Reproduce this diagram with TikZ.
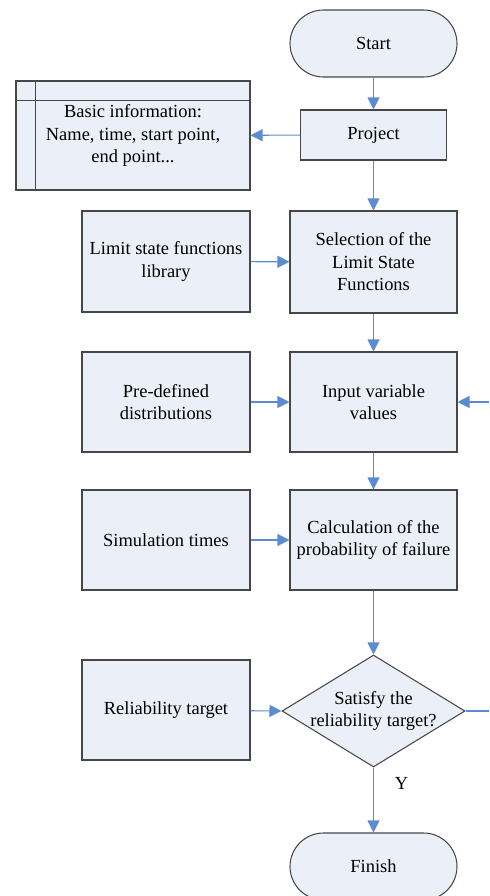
\documentclass[tikz,border=0pt]{standalone}
\usepackage{fontspec}
\setmainfont{Liberation Serif}
\usetikzlibrary{shapes.geometric,arrows.meta}
\definecolor{boxfill}{HTML}{EBEFF7}
\definecolor{boxedge}{HTML}{474747}
\definecolor{flowblue}{HTML}{5B8BD0}

\begin{document}
\begin{tikzpicture}[
              font=\fontsize{10.5}{12.8}\selectfont,
              process/.style={draw=boxedge,fill=boxfill,line width=0.6pt,align=center,inner sep=0pt,minimum width=3.36cm,minimum height=2.02cm},
              terminal/.style={draw=boxedge,fill=boxfill,line width=0.6pt,rounded corners=0.67cm,minimum width=3.34cm,minimum height=1.34cm},
              decision/.style={diamond,draw=boxedge,fill=boxfill,line width=0.6pt,inner sep=0pt,minimum width=3.66cm,minimum height=2.24cm},
              flow/.style={draw=flowblue,line width=0.6pt,-{Triangle[length=0.24cm,width=0.24cm]}},
              plainflow/.style={draw=flowblue,line width=0.6pt}
            ]
            \useasboundingbox (0cm,0cm) rectangle (9.78cm,-17.92cm);

            % Main column
            \node[terminal] (start) at (7.47cm,-0.87cm) {Start};
            \node[process,minimum width=2.92cm,minimum height=1.0cm] (project) at (7.47cm,-2.70cm) {Project};
            \node[process,minimum width=3.34cm,minimum height=2.04cm] (select) at (7.47cm,-5.24cm) {Selection of the\\Limit State\\Functions};
            \node[process,minimum width=3.34cm,minimum height=2.0cm] (input) at (7.47cm,-8.04cm) {Input variable\\values};
            \node[process,minimum width=3.34cm,minimum height=2.0cm] (calc) at (7.47cm,-10.80cm) {Calculation of the\\probability of failure};
            \node[decision] (check) at (7.47cm,-14.22cm) {};
            \node[align=center] (checktext) at (check) {Satisfy the\\reliability target?};
            \node[terminal] (finish) at (7.47cm,-17.33cm) {Finish};

            % Data store: basic information
            \node[process,minimum width=4.68cm,minimum height=2.18cm] (info) at (2.66cm,-2.71cm) {Basic information:\\Name, time, start point,\\end point...};
            \draw[boxedge,line width=0.6pt] ([yshift=-0.4cm]info.north west) -- ([yshift=-0.4cm]info.north east);
            \draw[boxedge,line width=0.6pt] ([xshift=0.4cm]info.north west) -- ([xshift=0.4cm]info.south west);

            % Side inputs
            \node[process] (library) at (3.32cm,-5.23cm) {Limit state functions\\library};
            \node[process,minimum height=2.0cm] (distrib) at (3.32cm,-8.04cm) {Pre-defined\\distributions};
            \node[process,minimum height=2.0cm] (simtimes) at (3.32cm,-10.80cm) {Simulation times};
            \node[process,minimum height=2.0cm] (target) at (3.32cm,-14.20cm) {Reliability target};

            % Loop back (cut at the right edge)
            \coordinate (loopout) at (9.78cm,-14.22cm);
            \coordinate (loopin) at (9.78cm,-8.04cm);

            % Flow
            \draw[flow] (start) -- (project);
            \draw[flow] (project) -- (info);
            \draw[flow] (project) -- (select);
            \draw[flow] (library) -- (select);
            \draw[flow] (select) -- (input);
            \draw[flow] (distrib) -- (input);
            \draw[flow] (input) -- (calc);
            \draw[flow] (simtimes) -- (calc);
            \draw[flow] (calc) -- (check.north);
            \draw[flow] (target) -- (check.west);
            \draw[flow] (check.south) -- node[pos=0.25,right=0.3cm] {Y} (finish);
            \draw[plainflow] (check.east) -- (loopout);
            \draw[flow] (loopin) -- (input);

            \end{tikzpicture}
\end{document}
